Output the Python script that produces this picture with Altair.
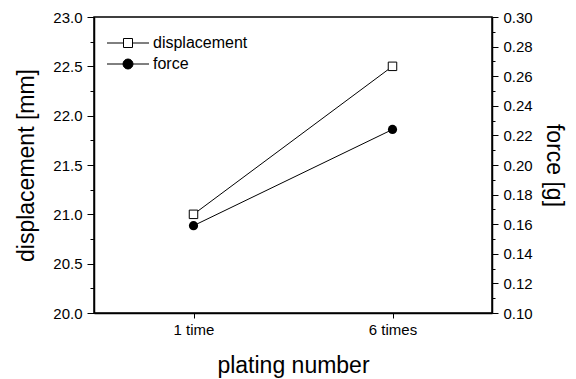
import altair as alt
import pandas as pd

# ---- data ----
plating = ["1 time", "6 times"]
displacement = [21.0, 22.5]
force = [0.159, 0.224]
series_names = ["displacement", "force"]

# tick positions (major + minor) and label text
disp_ticks = [20.0, 20.25, 20.5, 20.75, 21.0, 21.25, 21.5, 21.75,
              22.0, 22.25, 22.5, 22.75, 23.0]
force_ticks = [0.10, 0.11, 0.12, 0.13, 0.14, 0.15, 0.16, 0.17, 0.18, 0.19,
               0.20, 0.21, 0.22, 0.23, 0.24, 0.25, 0.26, 0.27, 0.28, 0.29, 0.30]

FONT = "Liberation Sans"

df = pd.DataFrame({"plating": plating, "displacement": displacement, "force": force})
legend_df = pd.DataFrame({"series": series_names})

# legend symbols: line stubs + marker
sq_path = "M-5.25,0H-1.125M1.125,0H5.25M-1.125,-1.125H1.125V1.125H-1.125Z"
circ_path = ("M-5.25,0H-1.25M1.25,0H5.25"
             "M-1.25,0A1.25,1.25,0,1,1,1.25,0A1.25,1.25,0,1,1,-1.25,0Z")

x_enc = alt.X(
    "plating:N",
    sort=plating,
    scale=alt.Scale(type="point", padding=0.5),
    axis=alt.Axis(title="plating number", labelAngle=0, tickSize=5,
                  labelPadding=4, titlePadding=17, titleFontSize=23,
                  labelFontSize=15),
)

minor_disp = "abs(datum.value*2 - round(datum.value*2)) > 0.001"
minor_force = "abs(datum.value*50 - round(datum.value*50)) > 0.001"

y_disp = alt.Y(
    "displacement:Q",
    scale=alt.Scale(domain=[20, 23], nice=False, zero=False),
    axis=alt.Axis(
        orient="left", title="displacement [mm]", values=disp_ticks,
        labelExpr=f"{minor_disp} ? '' : format(datum.value, '.1f')",
        tickSize={"condition": {"test": minor_disp, "value": 4}, "value": 7},
        labelPadding=5, titlePadding=14, titleFontSize=23, labelFontSize=15,
        labelOverlap=False, labelFlush=False,
    ),
)
y_force = alt.Y(
    "force:Q",
    scale=alt.Scale(domain=[0.10, 0.30], nice=False, zero=False),
    axis=alt.Axis(
        orient="right", title="force [g]", values=force_ticks,
        labelExpr=f"{minor_force} ? '' : format(datum.value, '.2f')",
        tickSize={"condition": {"test": minor_force, "value": 3}, "value": 6},
        labelPadding=5, titlePadding=9, titleFontSize=23, labelFontSize=15,
        labelOverlap=False, labelFlush=False,
    ),
)

base = alt.Chart(df).encode(x=x_enc)

disp_layer = alt.layer(
    base.mark_line(color="black", strokeWidth=1).encode(y=y_disp),
    base.mark_point(shape="square", filled=False, fill="white", stroke="black",
                    strokeWidth=1, size=72, opacity=1).encode(y=y_disp),
)
force_layer = alt.layer(
    base.mark_line(color="black", strokeWidth=1).encode(y=y_force),
    base.mark_point(shape="circle", filled=True, color="black",
                    size=85, opacity=1).encode(y=y_force),
)

leg = alt.Legend(
    title=None, orient="none", legendX=26, legendY=18,
    labelFont=FONT, labelFontSize=16, labelColor="black",
    labelOffset=17, rowPadding=5, padding=0,
    symbolStrokeColor="black", symbolStrokeWidth=1, symbolSize=64,
)
legend_layer = (
    alt.Chart(legend_df)
    .transform_filter("false")
    .mark_point(filled=False, strokeWidth=1, opacity=1)
    .encode(
        shape=alt.Shape("series:N",
                        scale=alt.Scale(domain=series_names, range=[sq_path, circ_path]),
                        legend=leg),
        fill=alt.Fill("series:N",
                      scale=alt.Scale(domain=series_names, range=["white", "black"]),
                      legend=leg),
        stroke=alt.Stroke("series:N",
                          scale=alt.Scale(domain=series_names, range=["black", "black"]),
                          legend=leg),
    )
)

chart = (
    alt.layer(disp_layer, force_layer, legend_layer)
    .resolve_scale(y="independent")
    .properties(
        width=398, height=296,
        autosize=alt.AutoSizeParams(type="none"),
        padding={"left": 94, "top": 17, "right": 84, "bottom": 66},
        background="white",
    )
    .configure_view(stroke="black", strokeWidth=1.5)
    .configure_axis(
        grid=False, domainColor="black", domainWidth=1.5, tickColor="black",
        tickWidth=1, labelColor="black", titleColor="black",
        labelFont=FONT, titleFont=FONT, titleFontWeight="normal",
    )
)

chart.save("out.html", embed_options={"renderer": "svg", "actions": False})
